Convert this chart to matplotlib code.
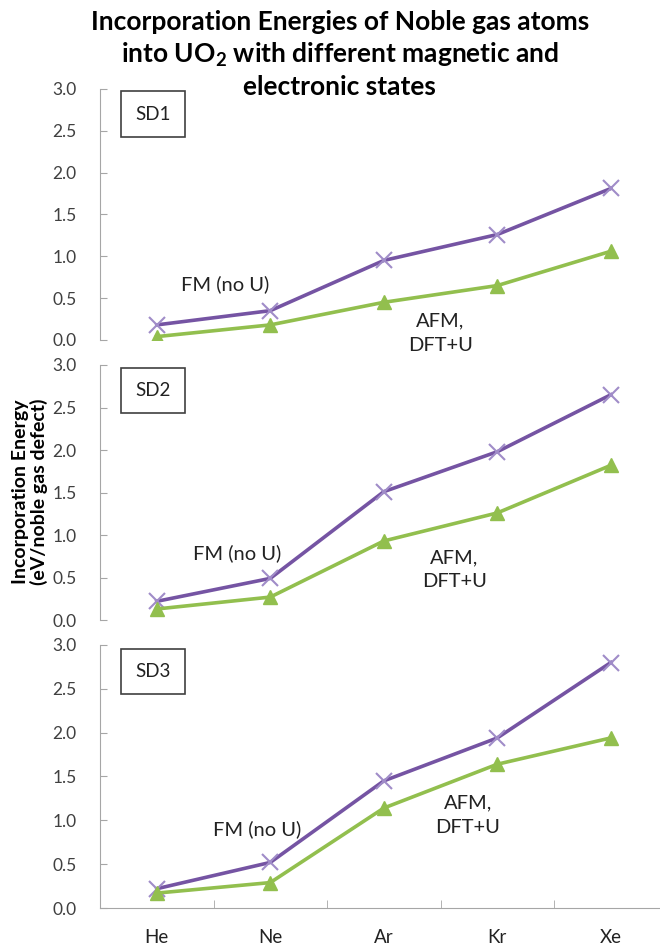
import matplotlib.pyplot as plt

plt.rcParams['font.family'] = ['Lato', 'DejaVu Sans']

# noble gases and incorporation energies (eV)
gases = ['He', 'Ne', 'Ar', 'Kr', 'Xe']
panels = ['SD1', 'SD2', 'SD3']
fm_no_u = [
    [0.18, 0.35, 0.95, 1.26, 1.81],
    [0.22, 0.49, 1.51, 1.98, 2.65],
    [0.22, 0.52, 1.45, 1.94, 2.80],
]
afm_dftu = [
    [0.04, 0.18, 0.45, 0.65, 1.06],
    [0.13, 0.27, 0.93, 1.26, 1.82],
    [0.17, 0.29, 1.14, 1.64, 1.94],
]
# label positions (category index, energy) for each panel
fm_label_pos = [(0.6, 0.67), (0.71, 0.79), (0.88, 0.90)]
afm_label_pos = [(2.5, 0.08), (2.62, 0.59), (2.74, 1.06)]

purple = '#7554A3'
lavender = '#A08CC8'
green = '#92BF4E'
grey = '#A6A6A6'
txt = '#404040'

fig = plt.figure(figsize=(6.6, 9.52), dpi=100)

#axes rectangles in figure fractions
rects = [
    [0.1515, 0.6429, 0.86, 0.2637],
    [0.1515, 0.3487, 0.86, 0.2679],
    [0.1515, 0.0462, 0.86, 0.2763],
]

x = list(range(len(gases)))
for i, r in enumerate(rects):
    ax = fig.add_axes(r)
    ax.plot(x, fm_no_u[i], color=purple, lw=2.6, marker='x', ms=11,
            mec=lavender, mew=1.5, zorder=3)
    ax.plot(x, afm_dftu[i], color=green, lw=2.6, marker='^', ms=10,
            mfc=green, mec=green, zorder=3)
    ax.set_xlim(-0.5, 4.5)
    ax.set_ylim(0, 3.0)
    ax.set_yticks([0, 0.5, 1.0, 1.5, 2.0, 2.5, 3.0])
    ax.set_yticklabels(['%.1f' % v for v in ax.get_yticks()])
    ax.tick_params(axis='y', direction='in', length=5, color=grey,
                   labelsize=12.5, labelcolor=txt, pad=17)
    for s in ['top', 'right']:
        ax.spines[s].set_visible(False)
    ax.spines['left'].set_color(grey)
    ax.set_xticks(x)
    if i < 2:
        ax.spines['bottom'].set_visible(False)
        ax.tick_params(axis='x', length=0, labelbottom=False)
    else:
        ax.spines['bottom'].set_color(grey)
        ax.set_xticklabels(gases, fontsize=13.5, color='#222222')
        ax.set_xticks([0.5, 1.5, 2.5, 3.5], minor=True)
        ax.tick_params(axis='x', which='major', length=0, pad=15)
        ax.tick_params(axis='x', which='minor', direction='in', length=6, color=grey)
    ax.text(0.093, 0.9, panels[i], transform=ax.transAxes, fontsize=13.5,
            color='#222222', va='center', ha='center',
            bbox=dict(boxstyle='square,pad=0.75', fc='white', ec='#404040', lw=1.2))
    fx, fy = fm_label_pos[i]
    ax.text(fx, fy, 'FM (no U)', fontsize=14.5, color='#222222', ha='center', va='center')
    axx, axy = afm_label_pos[i]
    ax.text(axx, axy, 'AFM,\nDFT+U', fontsize=14.5, color='#222222', ha='center',
            va='center', linespacing=1.5, clip_on=False)

fig.text(0.515, 0.99, 'Incorporation Energies of Noble gas atoms\ninto UO$_\\mathregular{2}$ with different magnetic and\nelectronic states',
         ha='center', va='top', fontsize=19, fontweight='bold', linespacing=1.3)
fig.text(0.045, 0.483, 'Incorporation Energy\n(eV/noble gas defect)', rotation=90,
         ha='center', va='center', fontsize=14, fontweight='bold', linespacing=1.05)

fig.savefig('out.png', dpi=100)
